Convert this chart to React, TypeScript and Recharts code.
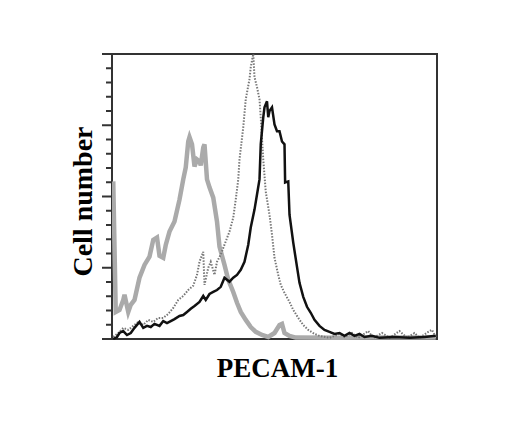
import React from 'react';
import { LineChart, Line, XAxis, YAxis, ReferenceArea } from 'recharts';

// Channel (0-260) vs relative cell count (0-100)
const grayControl = [
  { c: 1, v: 55.3 }, { c: 3, v: 9.5 }, { c: 6, v: 10.2 }, { c: 9, v: 13.7 }, { c: 10, v: 15.5 },
  { c: 13, v: 9.5 }, { c: 15, v: 12 }, { c: 18, v: 13.7 }, { c: 22, v: 21.5 }, { c: 26, v: 26 },
  { c: 30, v: 28.9 }, { c: 33, v: 34.8 }, { c: 36, v: 35.6 }, { c: 38, v: 29.2 }, { c: 41, v: 28.5 },
  { c: 43, v: 33 }, { c: 46, v: 37.7 }, { c: 50, v: 41.2 }, { c: 54, v: 48.9 }, { c: 57, v: 56 },
  { c: 59, v: 60.2 }, { c: 61, v: 69.3 }, { c: 62, v: 70.8 }, { c: 64, v: 68.3 }, { c: 66, v: 60.5 },
  { c: 68, v: 63 }, { c: 70, v: 62.3 }, { c: 71, v: 60.9 }, { c: 73, v: 67.2 }, { c: 74, v: 68.3 },
  { c: 76, v: 56 }, { c: 78, v: 53.2 }, { c: 81, v: 49.6 }, { c: 84, v: 41.2 }, { c: 86, v: 32.4 },
  { c: 90, v: 26 }, { c: 93, v: 20.8 }, { c: 97, v: 16.5 }, { c: 100, v: 12.7 }, { c: 103, v: 9.5 },
  { c: 107, v: 6.7 }, { c: 111, v: 4.2 }, { c: 115, v: 2.5 }, { c: 120, v: 1.4 }, { c: 125, v: 0.7 },
  { c: 130, v: 2.1 }, { c: 134, v: 4.9 }, { c: 136, v: 5.3 }, { c: 138, v: 2.1 }, { c: 142, v: 1.1 },
  { c: 147, v: 0.5 }, { c: 180, v: 0.4 }, { c: 220, v: 0.5 }, { c: 259, v: 0.5 },
];

const dottedSeries = [
  { c: 1, v: 0.7 }, { c: 5, v: 2.1 }, { c: 9, v: 3.9 }, { c: 13, v: 3.2 }, { c: 17, v: 4.6 },
  { c: 21, v: 6 }, { c: 25, v: 4.9 }, { c: 29, v: 6.7 }, { c: 33, v: 6 }, { c: 37, v: 7.4 },
  { c: 41, v: 7.4 }, { c: 45, v: 8.8 }, { c: 49, v: 10.9 }, { c: 53, v: 13.7 }, { c: 57, v: 15.1 },
  { c: 61, v: 17.2 }, { c: 65, v: 18.7 }, { c: 68, v: 22.5 }, { c: 70, v: 27.1 }, { c: 73, v: 30.6 },
  { c: 74, v: 19 }, { c: 77, v: 25 }, { c: 79, v: 27.1 }, { c: 82, v: 22.5 }, { c: 84, v: 27.1 },
  { c: 87, v: 29.6 }, { c: 90, v: 33.1 }, { c: 94, v: 37.7 }, { c: 97, v: 42.6 }, { c: 99, v: 48.9 },
  { c: 101, v: 56 }, { c: 102, v: 63 }, { c: 105, v: 74.3 }, { c: 107, v: 84.1 }, { c: 110, v: 91.2 },
  { c: 111, v: 95.4 }, { c: 113, v: 100 }, { c: 114, v: 91.9 }, { c: 116, v: 88.4 }, { c: 118, v: 84.1 },
  { c: 119, v: 77.8 }, { c: 121, v: 63 }, { c: 123, v: 51.7 }, { c: 126, v: 43.6 }, { c: 128, v: 36.6 },
  { c: 130, v: 28.5 }, { c: 133, v: 22.5 }, { c: 135, v: 19 }, { c: 138, v: 16.2 }, { c: 142, v: 13 },
  { c: 145, v: 10.2 }, { c: 149, v: 7.4 }, { c: 153, v: 4.9 }, { c: 157, v: 3.2 }, { c: 162, v: 1.8 },
  { c: 166, v: 1.1 }, { c: 174, v: 0.4 }, { c: 182, v: 1.8 }, { c: 186, v: 0.7 }, { c: 192, v: 2.1 },
  { c: 197, v: 0.4 }, { c: 205, v: 2.8 }, { c: 209, v: 0.4 }, { c: 216, v: 2.1 }, { c: 222, v: 0.4 },
  { c: 230, v: 2.8 }, { c: 236, v: 0.4 }, { c: 242, v: 2.1 }, { c: 246, v: 0.4 }, { c: 253, v: 2.5 },
  { c: 256, v: 3.2 }, { c: 259, v: 0.7 },
];

const blackSeries = [
  { c: 1, v: 0 }, { c: 4, v: 0.7 }, { c: 6, v: 2.1 }, { c: 9, v: 2.8 }, { c: 12, v: 1.4 },
  { c: 15, v: 2.1 }, { c: 18, v: 3.9 }, { c: 22, v: 6 }, { c: 25, v: 3.9 }, { c: 28, v: 4.6 },
  { c: 31, v: 4.2 }, { c: 34, v: 5.3 }, { c: 38, v: 4.6 }, { c: 41, v: 6.3 }, { c: 44, v: 5.6 },
  { c: 47, v: 6.3 }, { c: 50, v: 7 }, { c: 54, v: 8.1 }, { c: 57, v: 8.4 }, { c: 60, v: 9.5 },
  { c: 63, v: 10.6 }, { c: 66, v: 11.6 }, { c: 70, v: 13 }, { c: 73, v: 15.1 }, { c: 75, v: 13.7 },
  { c: 78, v: 15.8 }, { c: 81, v: 16.5 }, { c: 84, v: 17.2 }, { c: 87, v: 18.3 }, { c: 90, v: 21.5 },
  { c: 94, v: 20.1 }, { c: 97, v: 21.5 }, { c: 100, v: 22.5 }, { c: 103, v: 24.3 }, { c: 106, v: 27.1 },
  { c: 109, v: 33.1 }, { c: 111, v: 39.1 }, { c: 114, v: 45.4 }, { c: 116, v: 50.7 }, { c: 118, v: 56 },
  { c: 119, v: 68.3 }, { c: 121, v: 77.8 }, { c: 122, v: 81.3 }, { c: 124, v: 83.4 }, { c: 125, v: 77.8 },
  { c: 126, v: 80 }, { c: 128, v: 81.3 }, { c: 130, v: 75.3 }, { c: 132, v: 72.9 }, { c: 134, v: 72.9 },
  { c: 136, v: 69.3 }, { c: 138, v: 68.3 }, { c: 138.5, v: 54.9 }, { c: 141, v: 55.3 }, { c: 142, v: 43.6 },
  { c: 145, v: 33.8 }, { c: 148, v: 25.3 }, { c: 150, v: 19.7 }, { c: 153, v: 14.8 }, { c: 156, v: 11.3 },
  { c: 159, v: 9.2 }, { c: 162, v: 6.7 }, { c: 166, v: 4.6 }, { c: 170, v: 3.2 }, { c: 174, v: 2.5 },
  { c: 178, v: 1.8 }, { c: 182, v: 2.1 }, { c: 186, v: 1.1 }, { c: 190, v: 2.1 }, { c: 194, v: 1.1 },
  { c: 198, v: 1.8 }, { c: 202, v: 0.7 }, { c: 208, v: 1.1 }, { c: 214, v: 0.4 }, { c: 226, v: 0.7 },
  { c: 238, v: 0.4 }, { c: 250, v: 0.7 }, { c: 259, v: 1.1 },
];

const majorTicks = [0, 25, 50, 75, 100];
const allTicks = [0, 5, 10, 15, 20, 25, 30, 35, 40, 45, 50, 55, 60, 65, 70, 75, 80, 85, 90, 95, 100];
const xDomain = [0, 260];
const yDomain = [0, 100];
const xLabel = 'PECAM-1';
const yLabel = 'Cell number';

const FONT = '"Liberation Serif", "Times New Roman", serif';

const YLabelContent = (props: any) => {
  const vb = props.viewBox || {};
  const x = vb.x + vb.width - 20;
  const y = vb.y + vb.height / 2 + 5;
  return (
    <text
      x={x}
      y={y}
      transform={`rotate(-90, ${x}, ${y})`}
      textAnchor="middle"
      fontFamily={FONT}
      fontWeight="bold"
      fontSize={28}
      fill="#000"
    >
      {yLabel}
    </text>
  );
};

const XLabelContent = (props: any) => {
  const vb = props.viewBox || {};
  const x = vb.x + vb.width / 2 + 3;
  const y = vb.y + 38;
  return (
    <text x={x} y={y} textAnchor="middle" fontFamily={FONT} fontWeight="bold" fontSize={27} fill="#000">
      {xLabel}
    </text>
  );
};

const TickMark = (props: any) => {
  const { x, y, payload } = props;
  const len = majorTicks.includes(payload.value) ? 10 : 6;
  return <line x1={x - len} y1={y} x2={x} y2={y} stroke="#333" strokeWidth={2} />;
};

export default function App() {
  return (
    <div style={{ position: 'absolute', left: 0, top: 0, width: 513, height: 432, background: '#fff' }}>
      <LineChart width={513} height={432} margin={{ top: 54, right: 76, bottom: 53, left: 72 }}>
        <XAxis
          type="number"
          dataKey="c"
          domain={xDomain}
          allowDataOverflow
          height={40}
          tick={false}
          tickLine={false}
          axisLine={false}
          label={{ content: XLabelContent }}
        />
        <YAxis
          type="number"
          domain={yDomain}
          ticks={allTicks}
          interval={0}
          width={40}
          tickSize={0}
          tickMargin={0}
          axisLine={false}
          tickLine={false}
          tick={TickMark}
          label={{ content: YLabelContent }}
        />
        <ReferenceArea
          x1={0}
          x2={260}
          y1={0}
          y2={100}
          fill="none"
          fillOpacity={0}
          stroke="#333"
          strokeWidth={2}
          ifOverflow="visible"
        />
        <Line
          data={grayControl}
          dataKey="v"
          type="linear"
          stroke="#aaaaaa"
          strokeWidth={4.5}
          dot={false}
          isAnimationActive={false}
        />
        <Line
          data={dottedSeries}
          dataKey="v"
          type="linear"
          stroke="#777"
          strokeWidth={2}
          strokeDasharray="1.5 1.5"
          dot={false}
          isAnimationActive={false}
        />
        <Line
          data={blackSeries}
          dataKey="v"
          type="linear"
          stroke="#111"
          strokeWidth={2.5}
          dot={false}
          isAnimationActive={false}
        />
      </LineChart>
    </div>
  );
}
